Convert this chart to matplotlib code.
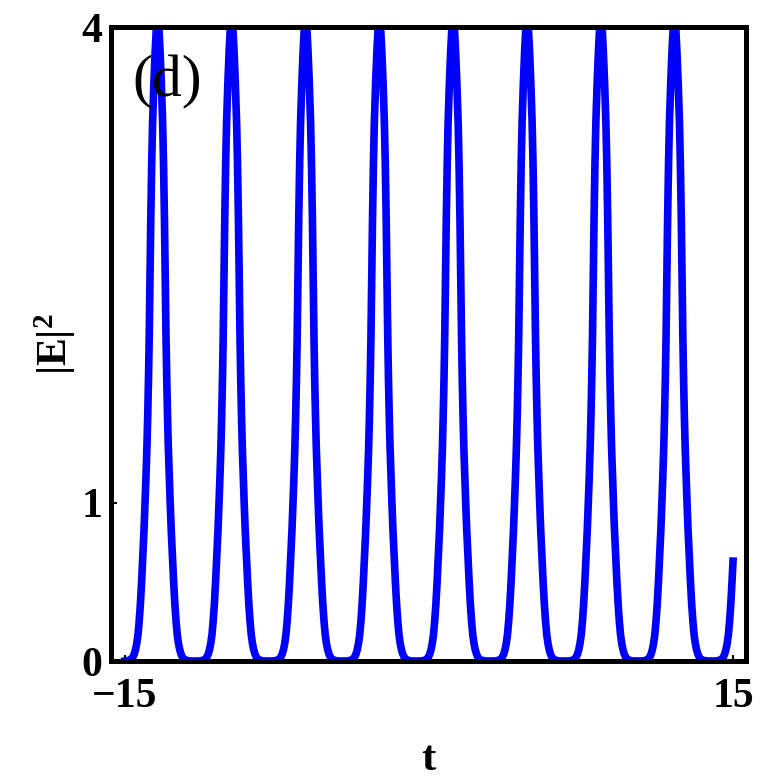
import numpy as np
import matplotlib
matplotlib.use('Agg')
import matplotlib.pyplot as plt

# ---- data ----
peak_centers = [-13.39, -9.74, -6.09, -2.45, 1.19, 4.84, 8.48, 12.11, 15.74]
# one peak's half profile: distance from the peak centre -> |E|^2
profile_offset = [0.00, 0.06, 0.12, 0.18, 0.247, 0.29, 0.336, 0.375, 0.415, 0.45,
                  0.49, 0.53, 0.58, 0.62, 0.67, 0.73, 0.79, 0.85, 0.91, 0.97,
                  1.03, 1.09, 1.15, 1.22, 1.30, 1.40, 1.55, 1.70, 1.823]
profile_value = [4.05, 4.00, 3.85, 3.66, 3.40, 3.15, 2.80, 2.42, 2.04, 1.78,
                 1.54, 1.34, 1.14, 1.00, 0.83, 0.66, 0.50, 0.36, 0.25, 0.165,
                 0.11, 0.072, 0.045, 0.025, 0.012, 0.005, 0.001, 0.0, 0.0]
t_start, e_start = -15.0, 0.0
t_end, e_end = 15.0, 0.63

x_ticks = [-15, 15]
x_tick_labels = ['\u221215', '15']
y_ticks = [0, 1, 4]
y_tick_labels = ['0', '1', '4']
panel_label = '(d)'

# ---- assemble the curve from the read peaks ----
off = np.array(profile_offset)
val = np.array(profile_value)
t_pts, e_pts = [], []
for c in peak_centers:
    t_pts.extend(c - off[::-1]); e_pts.extend(val[::-1])
    t_pts.extend(c + off[1:]); e_pts.extend(val[1:])
t = np.array(t_pts)
e = np.array(e_pts)
mask = (t > t_start) & (t < t_end)
t = np.concatenate([[t_start], t[mask], [t_end]])
e = np.concatenate([[e_start], e[mask], [e_end]])

# ---- figure ----
plt.rcParams['mathtext.fontset'] = 'custom'
plt.rcParams['mathtext.rm'] = 'Liberation Serif'
plt.rcParams['mathtext.bf'] = 'Liberation Serif:bold'
plt.rcParams['mathtext.it'] = 'Liberation Serif:italic'

fig = plt.figure(figsize=(7.8, 7.81), dpi=100)
ax = fig.add_axes([111/780, 1 - 661/781, (746-111)/780, (661-27)/781])

ax.plot(t, e, color='#0000ff', lw=5.5, solid_joinstyle='round', zorder=2)

ax.set_xlim(-15.69, 15.64)
ax.set_ylim(0, 4)

ax.set_xticks(x_ticks)
ax.set_xticklabels(x_tick_labels)
ax.set_yticks(y_ticks)
ax.set_yticklabels(y_tick_labels)
for lab in ax.get_xticklabels() + ax.get_yticklabels():
    lab.set_fontfamily('Liberation Serif')
    lab.set_fontweight('bold')
    lab.set_fontsize(30)
ax.tick_params(axis='x', direction='in', length=4, width=1.5, pad=12)
ax.tick_params(axis='y', direction='in', length=4, width=1.5, pad=6)

for sp in ax.spines.values():
    sp.set_linewidth(3.6)
    sp.set_zorder(3)

ax.set_xlabel('t', fontfamily='Liberation Serif', fontweight='bold',
              fontsize=31, labelpad=18)
ax.set_ylabel(r'$\mathbf{|E|^{2}}$', fontsize=30, labelpad=3)

ax.text(0.033, 0.89, panel_label, transform=ax.transAxes, ha='left',
        va='baseline', fontfamily='Liberation Serif', fontsize=43,
        color='black', zorder=5)

fig.savefig('out.png', dpi=100)
